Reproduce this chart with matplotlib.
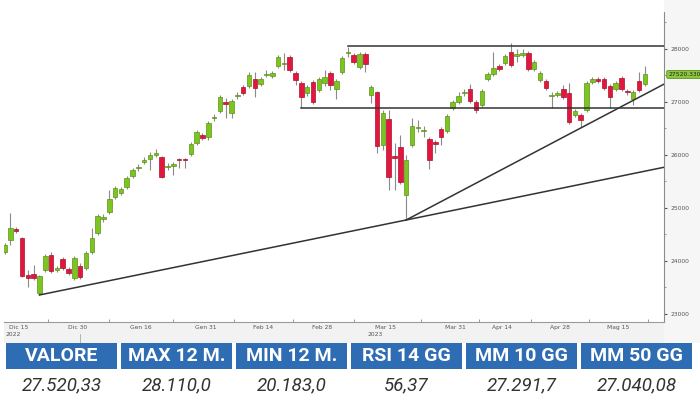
import numpy as np
import matplotlib.pyplot as plt
from matplotlib.patches import Rectangle

# Candele giornaliere (apertura, massimo, minimo, chiusura)
apertura = [24169, 24396, 24603, 24434, 23735, 23754, 23396, 23830, 24113, 23830,
            24037, 23849, 23679, 23905, 23867, 24169, 24528, 24792, 24924, 25207,
            25283, 25396, 25603, 25754, 25868, 25924, 26000, 25962, 25773, 25792,
            25924, 25924, 26019, 26226, 26377, 26339, 26698, 26830, 27000, 26792,
            27113, 27283, 27302, 27434, 27340, 27509, 27490, 27679, 27717, 27849,
            27547, 27358, 27170, 27377, 27226, 27358, 27547, 27245, 27566, 27925,
            27887, 27660, 27906, 27132, 27189, 26188, 26679, 25981, 26151, 25245,
            26188, 26509, 26453, 26302, 26245, 26490, 26453, 26887, 27000, 27170,
            27245, 27000, 26943, 27434, 27528, 27679, 27736, 27943, 27868, 27887,
            27925, 27623, 27415, 27396, 27113, 27132, 27245, 27170, 26755, 26755,
            26849, 27377, 27434, 27434, 27302, 27245, 27453, 27207, 27056, 27396,
            27340]
massimo = [24339, 24905, 24641, 24452, 23830, 23924, 23735, 24132, 24169, 23905,
           24075, 23886, 24094, 23962, 24188, 24622, 24886, 24886, 25339, 25415,
           25396, 25603, 25754, 25830, 25962, 26056, 26113, 25981, 25849, 25868,
           25943, 25943, 26245, 26471, 26415, 26641, 26773, 27132, 27075, 27056,
           27189, 27321, 27566, 27566, 27472, 27604, 27585, 27887, 27925, 27887,
           27585, 27396, 27321, 27415, 27472, 27604, 27585, 27434, 27868, 28038,
           27925, 27943, 27943, 27321, 27207, 26849, 26849, 26226, 26377, 26000,
           26698, 26660, 26547, 26339, 26283, 26528, 26773, 27038, 27189, 27245,
           27340, 27038, 27245, 27566, 27943, 27717, 27906, 28113, 28000, 28000,
           27962, 27792, 27585, 27434, 27189, 27207, 27321, 27358, 26868, 26792,
           27396, 27472, 27472, 27472, 27340, 27396, 27490, 27245, 27226, 27566,
           27679]
minimo = [24132, 24302, 24528, 23698, 23509, 23641, 23358, 23792, 23773, 23792,
          23830, 23735, 23641, 23660, 23830, 24132, 24490, 24735, 24886, 25170,
          25245, 25358, 25566, 25698, 25830, 25717, 25962, 25566, 25717, 25622,
          25754, 25754, 25981, 26188, 26283, 26283, 26641, 26792, 26698, 26698,
          27056, 27132, 27264, 27094, 27302, 27472, 27453, 27641, 27604, 27566,
          27321, 26887, 27113, 26962, 27189, 27302, 27226, 27056, 27528, 27849,
          27717, 27623, 27566, 26981, 26037, 26094, 25339, 25339, 25452, 24773,
          26151, 26434, 26339, 25736, 26037, 26188, 26415, 26849, 26962, 27113,
          26981, 26792, 26905, 27396, 27490, 27585, 27698, 27660, 27755, 27849,
          27585, 27585, 27377, 27226, 26887, 27094, 27056, 26585, 26717, 26528,
          26811, 27340, 27358, 27226, 26887, 27207, 27207, 27132, 26943, 27189,
          27302]
chiusura = [24302, 24622, 24566, 23717, 23679, 23679, 23717, 24094, 23811, 23867,
            23867, 23773, 24056, 23698, 24150, 24434, 24849, 24830, 25170, 25377,
            25358, 25566, 25717, 25773, 25905, 26000, 26037, 25585, 25792, 25830,
            25905, 25905, 26207, 26434, 26321, 26604, 26717, 27094, 26962, 27019,
            27132, 27170, 27509, 27264, 27434, 27528, 27547, 27849, 27736, 27604,
            27415, 27094, 27283, 27000, 27434, 27472, 27321, 27396, 27830, 27943,
            27755, 27906, 27717, 27283, 26170, 26792, 25585, 25943, 25490, 25905,
            26547, 26528, 26471, 25905, 26207, 26339, 26736, 27000, 27113, 27189,
            27019, 26849, 27207, 27528, 27641, 27623, 27868, 27698, 27906, 27925,
            27623, 27755, 27547, 27264, 27132, 27170, 27094, 26622, 26830, 26660,
            27358, 27434, 27396, 27264, 27094, 27358, 27245, 27189, 27189, 27226,
            27520]

etichette_date = ['Dic 15', 'Dic 30', 'Gen 16', 'Gen 31', 'Feb 14', 'Feb 28',
                  'Mar 15', 'Mar 31', 'Apr 14', 'Apr 28', 'Mag 15']
indici_date = [2, 12, 23, 34, 44, 54, 65, 77, 85, 95, 105]
livelli_y = [23000, 24000, 25000, 26000, 27000, 28000]

# Linee tracciate sul grafico
resistenza = 28057
inizio_resistenza = 59
supporto = 26877
inizio_supporto = 51
trend_lungo_x = [6, 69]
trend_lungo_y = [23358, 24773]
trend_breve_x = [69, 108]
trend_breve_y = [24773, 27030]

ultimo_prezzo = 27520.3301

voci_tabella = ['VALORE', 'MAX 12 M.', 'MIN 12 M.', 'RSI 14 GG', 'MM 10 GG', 'MM 50 GG']
valori_tabella = ['27.520,33', '28.110,0', '20.183,0', '56,37', '27.291,7', '27.040,08']

W, H = 700, 400
fig = plt.figure(figsize=(7, 4), dpi=100)
fig.patch.set_facecolor('white')

# fasce grigie dietro gli assi
fig.patches.append(Rectangle((4 / W, (H - 343) / H), 660 / W, 21 / H,
                             transform=fig.transFigure, fc='#f2f2f2', ec='none', zorder=-10))
fig.patches.append(Rectangle((664 / W, (H - 343) / H), 36 / W, 343 / H,
                             transform=fig.transFigure, fc='#f6f6f6', ec='none', zorder=-10))

ax = fig.add_axes([4 / W, (H - 322) / H, 660 / W, 310 / H])
ax.set_facecolor('white')
x_fine = 113.3
ax.set_xlim(-0.09, x_fine)
ax.set_ylim(22848, 28698)

o = np.array(apertura)
h = np.array(massimo)
l = np.array(minimo)
c = np.array(chiusura)
x = np.arange(len(o))
su = c >= o

ax.vlines(x, l, h, color='#8a8a8a', lw=0.8, zorder=2)
corpo = np.maximum(np.abs(c - o), 24)
base = np.minimum(o, c)
ax.bar(x[su], corpo[su], bottom=base[su], width=0.78, color='#7cc520',
       edgecolor='#5b9416', lw=0.5, zorder=3)
ax.bar(x[~su], corpo[~su], bottom=base[~su], width=0.78, color='#e3173e',
       edgecolor='#a8102c', lw=0.5, zorder=3)

# resistenza e supporto orizzontali
ax.plot([inizio_resistenza, x_fine], [resistenza, resistenza], color='#333333', lw=1.1, zorder=4)
ax.plot([inizio_supporto, x_fine], [supporto, supporto], color='#333333', lw=1.1, zorder=4)

# trendline prolungate fino al bordo destro
for tx, ty in [(trend_lungo_x, trend_lungo_y), (trend_breve_x, trend_breve_y)]:
    pendenza = (ty[1] - ty[0]) / (tx[1] - tx[0])
    ax.plot([tx[0], x_fine], [ty[0], ty[0] + pendenza * (x_fine - tx[0])],
            color='#333333', lw=1.1, zorder=4)

for lato in ['top', 'left']:
    ax.spines[lato].set_visible(False)
ax.spines['right'].set_color('#8a8a8a')
ax.spines['bottom'].set_color('#9a9a9a')
ax.spines['right'].set_linewidth(0.8)
ax.spines['bottom'].set_linewidth(0.8)

ax.yaxis.tick_right()
ax.set_yticks(livelli_y)
ax.set_yticklabels([str(v) for v in livelli_y])
ax.set_yticks([v + 500 for v in livelli_y], minor=True)
ax.tick_params(axis='y', which='major', length=2.5, width=0.8, color='#555555',
               labelsize=4.3, labelcolor='#555555', pad=2)
ax.tick_params(axis='y', which='minor', length=1.5, width=0.6, color='#888888')

ax.set_xticks([i + 0.5 for i in indici_date])
ax.set_xticklabels(etichette_date)
ax.set_xticks([(indici_date[i] + indici_date[i + 1]) / 2 + 0.5 for i in range(len(indici_date) - 1)]
              + [110.5], minor=True)
ax.tick_params(axis='x', which='major', length=0, labelsize=4.3, labelcolor='#555555', pad=2.5)
ax.tick_params(axis='x', which='minor', length=2, width=0.6, color='#888888', direction='in')

# anni sotto le date
ax.text(0.1, -0.033, '2022', transform=ax.get_xaxis_transform(), fontsize=4.3,
        color='#555555', va='top', ha='left')
ax.text(62.3, -0.033, '2023', transform=ax.get_xaxis_transform(), fontsize=4.3,
        color='#555555', va='top', ha='left')
ax.plot([13, 13], [-0.04, -0.068], transform=ax.get_xaxis_transform(), color='#aaaaaa',
        lw=0.6, clip_on=False)

# etichetta ultimo prezzo
ax.annotate('%.4f' % ultimo_prezzo, xy=(1, ultimo_prezzo), xycoords=('axes fraction', 'data'),
            xytext=(3, 0), textcoords='offset points', fontsize=4.3, color='#222222',
            va='center', ha='left', annotation_clip=False,
            bbox=dict(boxstyle='round,pad=0.25', fc='#8cc63f', ec='#5b9416', lw=0.6))

# tabella riassuntiva
for k, (voce, valore) in enumerate(zip(voci_tabella, valori_tabella)):
    x0 = 6 + 115 * k
    fig.patches.append(Rectangle((x0 / W, (H - 369) / H), 111 / W, 26 / H,
                                 transform=fig.transFigure, fc='#2e6cb3', ec='none'))
    fig.text((x0 + 55.5) / W, (H - 356) / H, voce, ha='center', va='center', color='white',
             fontsize=14, fontweight='bold', family=['Roboto', 'DejaVu Sans'])
    fig.text((x0 + 55.5) / W, (H - 385) / H, valore, ha='center', va='center',
             color='#333333', fontsize=13.5, style='italic', fontweight='normal',
             family=['Roboto', 'DejaVu Sans'])

plt.savefig('out.png', dpi=100)
